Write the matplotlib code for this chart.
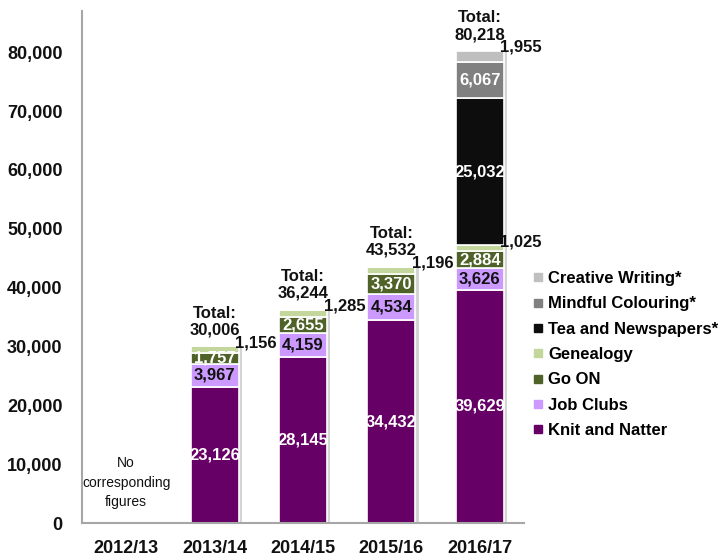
import matplotlib.pyplot as plt
import numpy as np
from matplotlib.lines import Line2D

plt.rcParams['font.family'] = ['Liberation Sans', 'DejaVu Sans']

years = ['2012/13', '2013/14', '2014/15', '2015/16', '2016/17']
series = ['Knit and Natter', 'Job Clubs', 'Go ON', 'Genealogy',
          'Tea and Newspapers*', 'Mindful Colouring*', 'Creative Writing*']
knit = [0, 23126, 28145, 34432, 39629]
job_clubs = [0, 3967, 4159, 4534, 3626]
go_on = [0, 1757, 2655, 3370, 2884]
genealogy = [0, 1156, 1285, 1196, 1025]
tea = [0, 0, 0, 0, 25032]
mindful = [0, 0, 0, 0, 6067]
creative = [0, 0, 0, 0, 1955]
totals = [None, 30006, 36244, 43532, 80218]

colors = ['#660066', '#cc99ff', '#4f6228', '#c3d69b', '#0d0d0d', '#808080', '#bfbfbf']
label_colors = ['white', '#111111', 'white', None, 'white', 'white', None]
outside = [False, False, False, True, False, False, True]

data = [knit, job_clubs, go_on, genealogy, tea, mindful, creative]

fig = plt.figure(figsize=(7.2, 5.59), dpi=100)
ax = fig.add_axes([82 / 720, 36 / 559, 442 / 720, 512 / 559])

x = np.arange(len(years))
width = 0.545

# shadow on the right of each bar
tot_h = np.sum(np.array(data), axis=0)
for i in range(1, len(years)):
    ax.bar(x[i] + 0.035, tot_h[i], width, color='#d4d4d4', zorder=1)

bottom = np.zeros(len(years))
for s, vals in enumerate(data):
    vals = np.array(vals, dtype=float)
    ax.bar(x, vals, width, bottom=bottom, color=colors[s], edgecolor='white',
           linewidth=1.2, zorder=2)
    for i in range(len(years)):
        if vals[i] <= 0:
            continue
        lbl = f'{int(vals[i]):,}'
        if outside[s]:
            ax.text(x[i] + width / 2 - 0.04, bottom[i] + vals[i] + 600, lbl,
                    ha='left', va='center', fontsize=12, fontweight='bold',
                    color='#111111', zorder=4)
        else:
            ax.text(x[i], bottom[i] + vals[i] / 2, lbl, ha='center', va='center',
                    fontsize=12, fontweight='bold', color=label_colors[s], zorder=4)
    bottom += vals

for i in range(len(years)):
    if totals[i] is None:
        continue
    ax.text(x[i], totals[i] + 1500, f'Total:\n{totals[i]:,}', ha='center', va='bottom',
            fontsize=12, fontweight='bold', color='#111111', linespacing=1.15)

ax.text(x[0], 6800, 'No\ncorresponding\nfigures', ha='center', va='center',
        fontsize=10, color='#111111', linespacing=1.5)

ax.set_xlim(-0.5, 4.5)
ax.set_ylim(0, 87000)
ax.set_xticks(x)
ax.set_xticklabels(years)
ax.set_yticks(np.arange(0, 80001, 10000))
ax.set_yticklabels([f'{v:,}' for v in range(0, 80001, 10000)])
ax.tick_params(axis='both', length=0, labelsize=13, colors='#111111')
ax.tick_params(axis='y', pad=14)
ax.tick_params(axis='x', pad=12)
for t in ax.get_xticklabels() + ax.get_yticklabels():
    t.set_fontweight('bold')
for sp in ['top', 'right']:
    ax.spines[sp].set_visible(False)
for sp in ['left', 'bottom']:
    ax.spines[sp].set_color('#a6a6a6')
    ax.spines[sp].set_linewidth(1.5)

handles = [Line2D([], [], marker='s', linestyle='', markersize=6,
                  color=colors[s]) for s in range(len(series))][::-1]
fig.legend(handles, series[::-1], loc='upper left',
           bbox_to_anchor=(533 / 720, 1 - 271 / 559), frameon=False,
           prop={'size': 12, 'weight': 'bold'}, handlelength=0.6,
           handletextpad=0.3, labelspacing=0.62, borderpad=0, borderaxespad=0)

fig.savefig('out.png', dpi=100)
